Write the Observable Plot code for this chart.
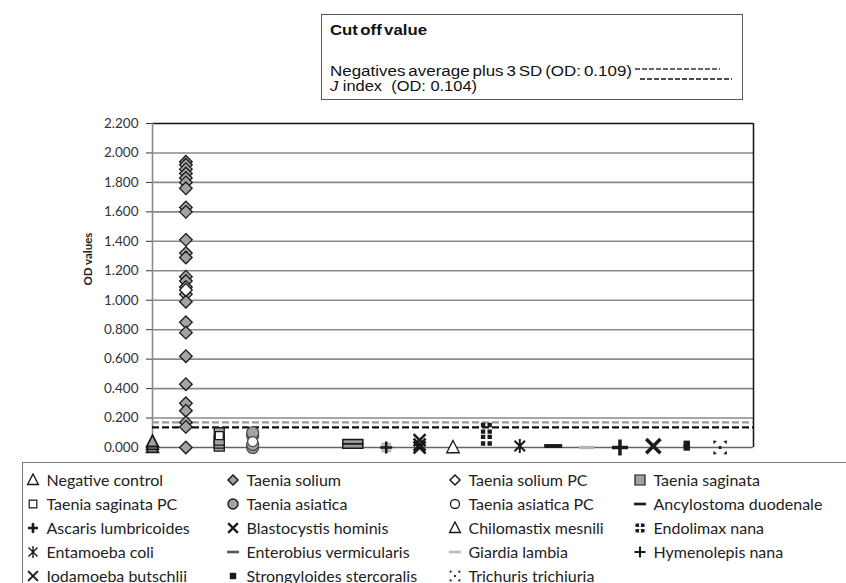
<!DOCTYPE html>
<html><head><meta charset="utf-8">
<script src="https://cdn.jsdelivr.net/npm/d3@7"></script>
<script src="https://cdn.jsdelivr.net/npm/@observablehq/plot@0.6"></script>
<style>
body{margin:0;background:#fff;width:846px;height:583px;overflow:hidden;font-family:Lato,"Open Sans",sans-serif;position:relative}
#top{position:relative;height:105px}
#cutoff{position:absolute;left:321px;top:14px;width:422px;height:86px;border:1.5px solid #555;box-sizing:border-box;font-family:"Liberation Sans",Arial,sans-serif;font-size:14px;color:#111}
#cutoff span{position:absolute;white-space:pre;line-height:16px;word-spacing:-1.5px;transform-origin:0 50%}
#cutoff svg{position:absolute}
#chart svg{display:block}
#legend{position:absolute;left:22px;top:462px;width:900px;height:200px;border:1.5px solid #777;box-sizing:border-box}
.li{position:absolute;white-space:nowrap;font-size:16px;color:#222;line-height:18px}
.ls{position:absolute}
</style></head><body>
<div id="top"><div id="cutoff"></div></div>
<div id="chart"></div>
<div id="legend"></div>
<script>
// ---------- data ----------
const slots = ["Negative control","Taenia solium","Taenia saginata","Taenia asiatica","","",
  "Ancylostoma duodenale","Ascaris lumbricoides","Blastocystis hominis","Chilomastix mesnili",
  "Endolimax nana","Entamoeba coli","Enterobius vermicularis","Giardia lambia","Hymenolepis nana",
  "Iodamoeba butschlii","Strongyloides stercoralis","Trichuris trichiuria"];
const xEnd = 18;
const yTicks = [0, 0.2, 0.4, 0.6, 0.8, 1.0, 1.2, 1.4, 1.6, 1.8, 2.0, 2.2];

const negativeControl = [0.00, 0.02, 0.04];
const taeniaSolium = [1.94, 1.92, 1.89, 1.86, 1.83, 1.80, 1.76, 1.63, 1.60, 1.41, 1.32, 1.29, 1.16, 1.13,
  1.09, 1.04, 0.99, 0.85, 0.78, 0.62, 0.43, 0.30, 0.25, 0.17, 0.14, 0.00];
const taeniaSoliumPC = [1.07];
const taeniaSaginata = [0.01, 0.03, 0.05, 0.10];
const taeniaSaginataPC = [0.08];
const taeniaAsiatica = [0.00, 0.02, 0.08, 0.10];
const taeniaAsiaticaPC = [0.04];
const ancylostoma = [0.01, 0.04];
const ascaris = [0.00];
const blastocystis = [0.00, 0.02, 0.05];
const chilomastix = [0.00];
const endolimax = [0.05, 0.13];
const entamoeba = [0.01];
const enterobius = [0.01];
const giardia = [0.00];
const hymenolepis = [0.00];
const iodamoeba = [0.01];
const strongyloides = [0.00, 0.025];
const trichuris = [0.00];

const cutoffNegatives = 0.17;   // drawn position, label OD 0.109
const cutoffJ = 0.137;          // drawn position, label OD 0.104
const cutoffTitle = "Cut off value";
const cutoffLabel1 = "Negatives average plus 3 SD (OD: 0.109)";
const cutoffLabel2J = "J";
const cutoffLabel2 = " index  (OD: 0.104)";

// ---------- symbols ----------
const sym = f => ({draw(c, size){ f(c, Math.sqrt(size / Math.PI)); }});
const triangle = sym((c,r)=>{c.moveTo(0,-r);c.lineTo(r*0.9,r*0.75);c.lineTo(-r*0.9,r*0.75);c.closePath();});
const diamond = sym((c,r)=>{c.moveTo(0,-r);c.lineTo(r,0);c.lineTo(0,r);c.lineTo(-r,0);c.closePath();});
const square = sym((c,r)=>{c.rect(-r,-r,2*r,2*r);});
const circle = sym((c,r)=>{c.moveTo(r,0);c.arc(0,0,r,0,2*Math.PI);});
const dash = sym((c,r)=>{c.rect(-r,-r*0.22,2*r,r*0.44);});
const plus = sym((c,r)=>{c.moveTo(-r,0);c.lineTo(r,0);c.moveTo(0,-r);c.lineTo(0,r);});
const cross = sym((c,r)=>{const a=r*0.75;c.moveTo(-a,-a);c.lineTo(a,a);c.moveTo(a,-a);c.lineTo(-a,a);});
const star = sym((c,r)=>{const a=r*0.75;c.moveTo(-a,-a);c.lineTo(a,a);c.moveTo(a,-a);c.lineTo(-a,a);c.moveTo(0,-r);c.lineTo(0,r);});
const quad = sym((c,r)=>{const s=r*0.8,g=r*0.2;c.rect(-g-s,-g-s,s,s);c.rect(g,-g-s,s,s);c.rect(-g-s,g,s,s);c.rect(g,g,s,s);});
const dots = sym((c,r)=>{const s=r*0.55;[[-1,-1],[1,-1],[-1,1],[1,1]].forEach(([a,b])=>{c.moveTo(a*r,b*r);c.lineTo(a*r-a*s*0.15,b*r-b*s);c.lineTo(a*r-a*s,b*r-b*s*0.15);c.closePath();});c.rect(-r*0.2,-r*0.2,r*0.4,r*0.4);});

const G = "#a3a3a3", K = "#1a1a1a";
const series = [
  {name:"Negative control", slot:"Negative control", values:negativeControl, symbol:triangle, r:6.5, fill:G, stroke:K, sw:1.8},
  {name:"Taenia solium", slot:"Taenia solium", values:taeniaSolium, symbol:diamond, r:6.3, fill:G, stroke:K, sw:1.3},
  {name:"Taenia solium PC", slot:"Taenia solium", values:taeniaSoliumPC, symbol:diamond, r:6.3, fill:"#fff", stroke:K, sw:1.3},
  {name:"Taenia saginata", slot:"Taenia saginata", values:taeniaSaginata, symbol:square, r:5, fill:G, stroke:K, sw:1.3},
  {name:"Taenia saginata PC", slot:"Taenia saginata", values:taeniaSaginataPC, symbol:square, r:4, fill:"#fff", stroke:K, sw:1.3},
  {name:"Taenia asiatica", slot:"Taenia asiatica", values:taeniaAsiatica, symbol:circle, r:6, fill:G, stroke:"#444", sw:1.2},
  {name:"Taenia asiatica PC", slot:"Taenia asiatica", values:taeniaAsiaticaPC, symbol:circle, r:5, fill:"#fff", stroke:"#444", sw:1.2},
  {name:"Ancylostoma duodenale", slot:"Ancylostoma duodenale", values:ancylostoma, symbol:dash, r:10, fill:"#999", stroke:K, sw:1.5},
  {name:"Ascaris lumbricoides", slot:"Ascaris lumbricoides", values:ascaris, symbol:plus, r:6, fill:"none", stroke:K, sw:2.5, halo:true},
  {name:"Blastocystis hominis", slot:"Blastocystis hominis", values:blastocystis, symbol:cross, r:8, fill:"none", stroke:K, sw:2.5},
  {name:"Chilomastix mesnili", slot:"Chilomastix mesnili", values:chilomastix, symbol:triangle, r:7, fill:"#fff", stroke:K, sw:1.3},
  {name:"Endolimax nana", slot:"Endolimax nana", values:endolimax, symbol:quad, r:5.5, fill:K, stroke:"none", sw:0},
  {name:"Entamoeba coli", slot:"Entamoeba coli", values:entamoeba, symbol:star, r:7, fill:"none", stroke:K, sw:2},
  {name:"Enterobius vermicularis", slot:"Enterobius vermicularis", values:enterobius, symbol:dash, r:9, fill:K, stroke:"none", sw:0},
  {name:"Giardia lambia", slot:"Giardia lambia", values:giardia, symbol:dash, r:7.5, fill:"#b5b5b5", stroke:"none", sw:0},
  {name:"Hymenolepis nana", slot:"Hymenolepis nana", values:hymenolepis, symbol:plus, r:8, fill:"none", stroke:K, sw:3.5},
  {name:"Iodamoeba butschlii", slot:"Iodamoeba butschlii", values:iodamoeba, symbol:cross, r:9.5, fill:"none", stroke:K, sw:3.5},
  {name:"Strongyloides stercoralis", slot:"Strongyloides stercoralis", values:strongyloides, symbol:square, r:3.2, fill:K, stroke:"none", sw:0},
  {name:"Trichuris trichiuria", slot:"Trichuris trichiuria", values:trichuris, symbol:dots, r:7, fill:"#222", stroke:"none", sw:0}
];
// legend symbols (HTML legend uses same shapes)
const legendStyle = {
  "Negative control":{symbol:triangle, r:6, fill:"#fff", stroke:K, sw:1.4},
  "Taenia solium":{symbol:diamond, r:5, fill:G, stroke:K, sw:1.5},
  "Taenia solium PC":{symbol:diamond, r:5, fill:"#fff", stroke:K, sw:1.5},
  "Taenia saginata":{symbol:square, r:5, fill:G, stroke:K, sw:1.2},
  "Taenia saginata PC":{symbol:square, r:3.8, fill:"#fff", stroke:K, sw:1.2},
  "Taenia asiatica":{symbol:circle, r:5, fill:G, stroke:K, sw:1.4},
  "Taenia asiatica PC":{symbol:circle, r:4.5, fill:"#fff", stroke:K, sw:1.3},
  "Ancylostoma duodenale":{symbol:dash, r:6, fill:K, stroke:"none", sw:0},
  "Ascaris lumbricoides":{symbol:plus, r:5, fill:"none", stroke:K, sw:2.6},
  "Blastocystis hominis":{symbol:cross, r:6.5, fill:"none", stroke:K, sw:2.3},
  "Chilomastix mesnili":{symbol:triangle, r:6, fill:"#fff", stroke:K, sw:1.4},
  "Endolimax nana":{symbol:quad, r:4.5, fill:K, stroke:"none", sw:0},
  "Entamoeba coli":{symbol:star, r:6, fill:"none", stroke:K, sw:1.4},
  "Enterobius vermicularis":{symbol:dash, r:6, fill:"#555", stroke:"none", sw:0},
  "Giardia lambia":{symbol:dash, r:6, fill:"#bdbdbd", stroke:"none", sw:0},
  "Hymenolepis nana":{symbol:plus, r:5.5, fill:"none", stroke:K, sw:2},
  "Iodamoeba butschlii":{symbol:cross, r:6.5, fill:"none", stroke:K, sw:2},
  "Strongyloides stercoralis":{symbol:square, r:3.2, fill:K, stroke:"none", sw:0},
  "Trichuris trichiuria":{symbol:dots, r:5.5, fill:"#333", stroke:"none", sw:0}
};

// ---------- chart ----------
const dotMarks = series.flatMap(s => {
  const rows = s.values.map(v => ({x: slots.indexOf(s.slot), y: v}));
  const m = [];
  if (s.halo) m.push(Plot.dot(rows, {x:"x", y:"y", symbol:square, r:5, fill:"#bdbdbd", stroke:"none"}));
  m.push(Plot.dot(rows, {x:"x", y:"y", symbol:s.symbol, r:s.r, fill:s.fill, stroke:s.stroke, strokeWidth:s.sw}));
  return m;
});

const chart = Plot.plot({
  width: 846, height: 355,
  marginLeft: 152, marginRight: 93, marginTop: 18, marginBottom: 13,
  style: {fontFamily: "Lato, 'Open Sans', sans-serif", fontSize: "13.5px", color: "#333", background: "#fff", overflow: "visible"},
  x: {domain: [0, xEnd], axis: null},
  y: {domain: [0, 2.2], ticks: yTicks, tickFormat: d3.format(".3f"), tickSize: 6, tickPadding: 8, label: null},
  marks: [
    Plot.ruleY(yTicks.filter(d => d > 0 && d < 2.2), {stroke: "#8a8a8a", strokeWidth: 1.6}),
    Plot.ruleY([2.2], {stroke: "#111", strokeWidth: 1.5}),
    Plot.ruleX([xEnd], {stroke: "#111", strokeWidth: 1.5}),
    Plot.ruleX([0], {stroke: "#8a8a8a", strokeWidth: 1.6}),
    Plot.ruleY([0], {stroke: "#666", strokeWidth: 1.4}),
    Plot.ruleY([cutoffNegatives], {stroke: "#9a9a9a", strokeWidth: 2.2, strokeDasharray: "7,3"}),
    Plot.ruleY([cutoffJ], {stroke: "#111", strokeWidth: 2.2, strokeDasharray: "7,3"}),
    ...dotMarks,
    Plot.text(["OD values"], {frameAnchor: "left", dx: -64, rotate: -90, fontWeight: "bold", fontSize: 11.5, fill: "#222"})
  ]
});
document.getElementById("chart").appendChild(chart);

// ---------- cutoff box ----------
const box = document.getElementById("cutoff");
function addSpan(html, x, y, targetW, extra){
  const s=document.createElement("span"); s.innerHTML=html; s.style.left=x+"px"; s.style.top=y+"px";
  if(extra) s.style.cssText+=extra; box.appendChild(s);
  const w = s.getBoundingClientRect().width;
  if (targetW && w > 0) s.style.transform = `scaleX(${targetW / w})`;
}
addSpan(cutoffTitle, 8, 7, 97, "font-weight:bold;font-size:14.5px;word-spacing:-2px;");
addSpan(cutoffLabel1, 8, 48, 302);
addSpan("<i>"+cutoffLabel2J+"</i>"+cutoffLabel2, 8, 63, 147, "word-spacing:0;");
function dashLine(x1, x2, y, color){
  const s = d3.create("svg").attr("width", x2-x1).attr("height", 4).style("left", x1+"px").style("top", (y-2)+"px");
  s.append("line").attr("x1",0).attr("x2",x2-x1).attr("y1",2).attr("y2",2).attr("stroke",color).attr("stroke-width",1.4).attr("stroke-dasharray","5,2");
  box.appendChild(s.node());
}
dashLine(313, 398, 54, "#333");
dashLine(318, 410, 64, "#111");

// ---------- bottom legend ----------
const leg = document.getElementById("legend");
const colSym = [33, 233, 455, 640], colTxt = [47, 247, 469, 654];
const rowY = [480, 504, 528, 552, 576];
series.forEach((s, i) => {
  const col = i % 4, row = Math.floor(i / 4);
  const st = legendStyle[s.name];
  const p = d3.path(); st.symbol.draw(p, st.r*st.r*Math.PI);
  const svg = d3.create("svg").attr("class","ls").attr("width",18).attr("height",18).attr("viewBox","-9 -9 18 18")
    .style("left", (colSym[col]-22-9-1.5)+"px").style("top", (rowY[row]-462-9-1.5)+"px");
  svg.append("path").attr("d", p.toString()).attr("fill", st.fill).attr("stroke", st.stroke).attr("stroke-width", st.sw);
  leg.appendChild(svg.node());
  const t = document.createElement("div"); t.className="li"; t.textContent = s.name;
  t.style.left = (colTxt[col]-22-1.5)+"px"; t.style.top = (rowY[row]-462-9-1.5)+"px";
  leg.appendChild(t);
});
</script>
</body></html>
